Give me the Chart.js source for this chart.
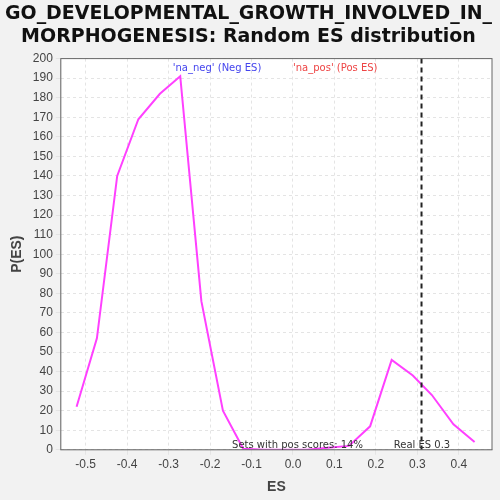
<!DOCTYPE html>
<html><head>
<script src="https://cdn.jsdelivr.net/npm/chart.js@4"></script>
<style>body{margin:0;background:#f2f2f2}#w{width:500px;height:500px}</style>
</head><body><div id="w"><canvas id="myChart"></canvas></div>
<script>
var esValues = [-0.522,-0.473,-0.424,-0.373,-0.321,-0.272,-0.221,-0.169,-0.12,-0.069,-0.018,0.033,0.084,0.135,0.186,0.238,0.289,0.335,0.387,0.438];
var probValues = [22,57,140,169,182,191,76,20,0.5,0,0,0,1,2,12,46,38,28,13,4];
var realES = 0.31;

var bgPlugin = {
    id: 'bg',
    beforeDraw: function(c) {
        var a = c.chartArea, x = c.ctx;
        x.save(); x.fillStyle = '#fff'; x.fillRect(a.left, a.top, a.right - a.left, a.bottom - a.top); x.restore();
    },
    afterDatasetsDraw: function(c) {
        var a = c.chartArea, x = c.ctx, px = c.scales.x.getPixelForValue(realES);
        x.save();
        x.strokeStyle = '#222'; x.lineWidth = 2; x.setLineDash([5, 4]);
        x.beginPath(); x.moveTo(px, a.top); x.lineTo(px, a.bottom); x.stroke();
        x.setLineDash([]);
        x.strokeStyle = '#666'; x.lineWidth = 1; x.strokeRect(a.left, a.top, a.right - a.left, a.bottom - a.top);
        x.font = '10px "DejaVu Sans"'; x.fillStyle = '#333'; x.textAlign = 'left';
        x.fillText('Sets with pos scores: 14%', c.scales.x.getPixelForValue(-0.147), a.bottom - 2);
        x.fillText('Real ES 0.3', c.scales.x.getPixelForValue(0.243), a.bottom - 2);
        x.fillStyle = '#4444ee'; x.fillText("'na_neg' (Neg ES)", c.scales.x.getPixelForValue(-0.29), a.top + 12);
        x.fillStyle = '#ee4444'; x.fillText("'na_pos' (Pos ES)", c.scales.x.getPixelForValue(0.0), a.top + 12);
        x.restore();
    }
};

window.onload = function() {
    var ctx = document.getElementById('myChart').getContext('2d');
    new Chart(ctx, {
        type: 'line',
        data: {
            datasets: [{
                data: esValues.map(function(e, i) { return {x: e, y: probValues[i]}; }),
                borderColor: '#ff40ff', borderWidth: 2, pointRadius: 0, tension: 0, fill: false
            }]
        },
        options: {
            responsive: true, maintainAspectRatio: false, animation: false,
            layout: {padding: {right: 8, left: 5}},
            plugins: {
                legend: {display: false}, tooltip: {enabled: false},
                title: {display: true, text: ['GO_DEVELOPMENTAL_GROWTH_INVOLVED_IN_', 'MORPHOGENESIS: Random ES distribution'],
                    color: '#111', font: {family: '"DejaVu Sans"', size: 19, weight: 'bold'}, padding: {top: 3, bottom: 10}}
            },
            scales: {
                x: {type: 'linear', min: -0.56, max: 0.48,
                    afterBuildTicks: function(s) { s.ticks = [-0.5,-0.4,-0.3,-0.2,-0.1,0,0.1,0.2,0.3,0.4].map(function(v){return {value: v};}); },
                    ticks: {color: '#444', font: {size: 12}, callback: function(v) { return v.toFixed(1); }},
                    grid: {color: '#e4e4e4', tickLength: 5},
                    border: {dash: [3, 3]},
                    title: {display: true, text: 'ES', color: '#444', font: {size: 14, weight: 'bold'}}},
                y: {min: 0, max: 200,
                    ticks: {stepSize: 10, color: '#444', font: {size: 12}},
                    grid: {color: '#e4e4e4', tickLength: 5},
                    border: {dash: [3, 3]},
                    title: {display: true, text: 'P(ES)', color: '#444', font: {size: 14, weight: 'bold'}}}
            }
        },
        plugins: [bgPlugin]
    });
};
</script></body></html>
